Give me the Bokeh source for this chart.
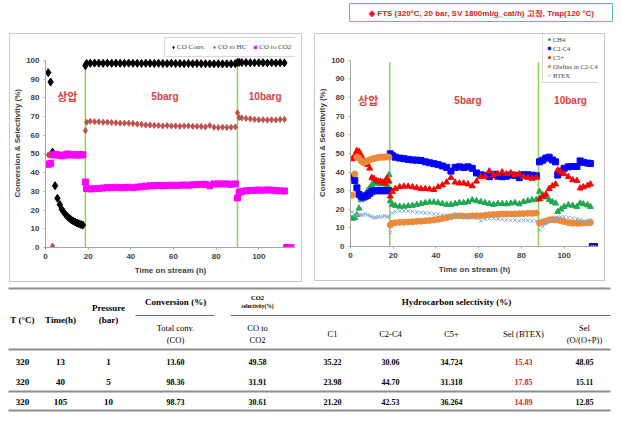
from bokeh.plotting import figure
from bokeh.layouts import column, row
from bokeh.models import Range1d, FixedTicker, Legend, LegendItem
from bokeh.core.properties import value
from bokeh.embed import file_html
from bokeh.resources import INLINE

# ---------------- data: left chart (CO conversion / selectivity) ----------------
L_t1 = [1.3, 2.4, 3.3, 4.5, 5.6, 6.7, 7.6, 8.5, 9.4, 10.3, 11.2, 12.1, 13.0, 13.9, 14.8, 15.7, 16.6, 17.5]
conv_1 = [93.5, 88.5, 51.0, 33.0, 26.3, 23.0, 20.5, 19.0, 17.6, 16.5, 15.6, 14.8, 14.2, 13.6, 13.1, 12.7, 12.3, 12.0]
hc_1 = [49.5, 44.8, 0.8, 49.7, 49.4, 49.2, 49.0, 49.2, 49.5, 49.9, 49.7, 49.4, 49.6, 49.5, 49.3, 49.6, 49.4, 49.5]
co2_1 = [44.5, 45.0, 49.5, 49.8, 49.5, 49.3, 49.0, 49.2, 49.6, 50.0, 49.8, 49.5, 49.7, 49.6, 49.4, 49.7, 49.5, 49.6]

L_t2 = [18.7, 19.3, 21, 23, 25, 27, 29, 31, 33, 35, 37, 39, 41, 43, 45, 47, 49, 51, 53, 55, 57, 59,
        61, 63, 65, 67, 69, 71, 73, 75, 77, 79, 81, 83, 85, 87, 89]
conv_2 = [97.3, 98.4, 98.5, 98.6, 98.6, 98.5, 98.6, 98.5, 98.6, 98.5, 98.5, 98.6, 98.5, 98.5, 98.4, 98.5,
          98.5, 98.4, 98.5, 98.4, 98.4, 98.5, 98.4, 98.4, 98.3, 98.4, 98.3, 98.4, 98.3, 98.3, 98.2, 98.2,
          98.3, 98.2, 98.2, 98.2, 98.3]
hc_2 = [62.5, 67.0, 67.5, 67.3, 67.2, 67.0, 67.0, 66.8, 66.7, 66.5, 66.5, 66.5, 66.3, 66.0, 65.8, 65.5,
        65.5, 65.3, 65.2, 65.0, 65.2, 65.0, 65.0, 64.8, 65.0, 65.0, 64.8, 64.8, 64.7, 64.5, 65.2, 64.3,
        64.2, 64.3, 64.2, 64.3, 64.5]
co2_2 = [35.0, 31.5, 31.3, 31.5, 31.6, 31.8, 32.0, 32.0, 32.2, 32.0, 32.0, 32.2, 32.0, 32.3, 32.5, 32.8,
         33.0, 33.0, 33.2, 33.0, 33.2, 33.3, 33.2, 33.3, 33.4, 33.3, 33.5, 33.7, 33.8, 33.8, 33.0, 34.0,
         34.0, 34.0, 34.0, 33.8, 34.0]

L_t3 = [90.0, 90.8, 92, 94, 96, 98, 100, 102, 104, 106, 108, 110, 112]
conv_3 = [99.0, 99.0, 98.9, 98.9, 98.8, 98.8, 98.8, 98.8, 98.7, 98.8, 98.7, 98.8, 98.7]
hc_3 = [72.0, 69.5, 69.3, 69.0, 68.8, 68.5, 68.3, 68.3, 68.2, 68.3, 68.2, 68.5, 68.5]
co2_3 = [26.5, 29.5, 30.0, 30.3, 30.5, 30.6, 30.7, 30.6, 30.8, 30.7, 30.5, 30.3, 30.2]

L_t_end = [113.0, 114.0, 115.0]
co2_end = [0.0, 0.0, 0.0]

L_switch = [18.7, 90.0]
L_label_x = [10.2, 56.0, 103.0]
L_label_y = [81.0, 81.0, 81.0]

# ---------------- data: right chart (hydrocarbon selectivity) ----------------
R_t1 = [0.8, 2, 3, 4, 5, 6, 7, 8, 9, 10, 11, 12, 13, 14, 15, 16, 17, 18]
ch4_1 = [15, 15.5, 17, 20.5, 25, 27, 28, 30, 31.5, 33, 34, 34, 34, 33.5, 34, 35, 33, 38.5]
c2c4_1 = [37.5, 35.5, 31.5, 28, 27, 26.5, 27, 27.5, 28.5, 29.5, 30, 30, 30, 30, 30, 30, 30, 30]
c5_1 = [47, 49, 51.5, 51, 49, 46.5, 45.5, 44, 42, 37, 36.5, 35.5, 35, 35, 34.5, 34, 36.5, 35]
ole_1 = [27.5, 39, 48, 47.5, 46, 45, 45.5, 46, 46.5, 47, 47.3, 47.5, 47.8, 48, 48, 48, 48.2, 48]
btex_1 = [18.5, 16.5, 17, 17, 17, 17, 17.5, 17, 16.5, 16, 15.5, 15.5, 16, 16, 16, 16.5, 16, 16]

R_t2 = [18.6, 19.6, 21, 23, 25, 27, 29, 31, 33, 35, 37, 39, 41, 43, 45, 47, 49, 51, 53, 55, 57, 59,
        61, 63, 65, 67, 69, 71, 73, 75, 77, 79, 81, 83, 85, 87]
ch4_2 = [24.5, 22.5, 22, 21.5, 21.5, 21.8, 22, 22.5, 23, 23.5, 23.8, 23.8, 23.5, 23, 22.5, 22.5, 23, 23.5,
         23.5, 24, 25, 24.5, 24, 23.5, 23, 22.5, 23, 23, 22.8, 23.2, 23.5, 22.8, 24, 24.5, 25, 25.2]
c2c4_2 = [49.8, 48.8, 48, 47.5, 47.2, 46.8, 46.5, 46.4, 46.2, 45.5, 45, 44.5, 44, 43.3, 42.5, 40.5, 42.5,
          42.8, 42.5, 42.8, 42, 39.5, 38.5, 38.2, 37.5, 38.8, 37.8, 37.5, 37.8, 38.4, 38.2, 37, 38.5, 38.5,
          38.3, 38]
c5_2 = [27, 29.5, 31, 32, 32.3, 32.3, 32, 31.5, 31, 31, 30.8, 30.5, 32, 33, 34.5, 37, 34.5, 34, 34, 33.5,
        32.5, 35, 37.5, 37.5, 40.5, 38.5, 39, 40, 39, 39.5, 38.5, 39, 37.5, 37, 36.5, 37]
ole_2 = [11.5, 12.5, 12.8, 13, 13, 13.2, 13.3, 13.5, 13.6, 13.8, 14, 14.3, 14.6, 15, 15.5, 16, 16.5, 16.5,
         16.3, 16.3, 16.5, 16.5, 16.5, 16.8, 17, 17.2, 17.3, 17.5, 17.5, 17.5, 17.5, 17.6, 17.7, 17.8, 17.8, 18]
btex_2 = [7.5, 18, 18.8, 19.1, 19.1, 19, 18.8, 18.5, 18.3, 18, 17.9, 17.5, 17.3, 17, 16.8, 16.5, 16.3, 16,
          16, 15.8, 15.5, 15.2, 13.8, 14.5, 15, 15.2, 14.8, 14.5, 14.3, 14, 14.2, 13.8, 14, 14, 13.8, 13.6]

R_t3 = [88.5, 90, 91.5, 93, 94.5, 96, 97, 98.5, 100, 102, 104, 106, 107.5, 109, 111, 112.3]
ch4_3 = [29.5, 27.7, 26.5, 25, 24, 23.2, 18.7, 20, 21.4, 22.3, 22, 21.4, 23.2, 22.8, 22.3, 21.4]
c2c4_3 = [45.5, 46.4, 47.5, 48, 46.5, 45.5, 38.4, 40.5, 42, 42.8, 43, 43, 46, 45.2, 44.8, 44.6]
c5_3 = [25.5, 26.8, 28, 31, 32.5, 33.5, 41, 40, 39, 37.5, 35.7, 35.4, 31.3, 32, 32.8, 33.5]
ole_3 = [12.5, 13.2, 13.6, 14.3, 14.5, 14.3, 14.3, 13.8, 13.4, 12.8, 12.5, 12.5, 12.5, 12.6, 12.8, 12.9]
btex_3 = [8.9, 10.7, 12, 13.4, 14.5, 15.2, 15.5, 16, 16, 15.5, 15.2, 14.8, 14.3, 13.5, 12.9, 14.3]

R_t_end = [113.2, 114.2]
R_end = [0.0, 0.0]

R_switch = [18.4, 88.0]
R_label_x = [8.3, 55.0, 103.0]
R_label_y = [78.5, 78.5, 78.5]

region_labels = ["상압", "5barg", "10barg"]
x_ticks = [0, 20, 40, 60, 80, 100]
y_ticks = [0, 10, 20, 30, 40, 50, 60, 70, 80, 90, 100]

# ---------------- data: table ----------------
tbl_T = ["320", "320", "320"]
tbl_time = ["13", "40", "105"]
tbl_pressure = ["1", "5", "10"]
tbl_conv = ["13.60", "98.36", "98.73"]
tbl_co2 = ["49.58", "31.91", "30.61"]
tbl_c1 = ["35.22", "23.98", "21.20"]
tbl_c2c4 = ["30.06", "44.70", "42.53"]
tbl_c5 = ["34.724", "31.318", "36.264"]
tbl_btex = ["15.43", "17.85", "14.89"]
tbl_ole = ["48.05", "15.11", "12.85"]

title_text = "◆ FTS (320°C, 20 bar, SV 1800ml/g_cat/h) 고정, Trap(120 °C)"

AX = "#404040"
LBL_RED = "#e03c3c"
GREEN_LINE = "#92d050"
BOX = "1px solid #c8c8c8"


def style_chart(p, xlabel, ylabel):
    p.xgrid.visible = False
    p.ygrid.visible = False
    p.outline_line_color = None
    p.xaxis.ticker = FixedTicker(ticks=x_ticks)
    p.yaxis.ticker = FixedTicker(ticks=y_ticks)
    p.yaxis.bounds = (0, 100)
    for ax in (p.xaxis[0], p.yaxis[0]):
        ax.axis_line_color = "#a6a6a6"
        ax.major_tick_line_color = "#a6a6a6"
        ax.major_tick_out = 2
        ax.major_tick_in = 0
        ax.minor_tick_line_color = None
        ax.major_label_text_font = "Liberation Sans"
        ax.major_label_text_font_style = "bold"
        ax.major_label_text_font_size = "8px"
        ax.major_label_text_color = AX
        ax.axis_label_text_font = "Liberation Sans"
        ax.axis_label_text_font_style = "bold"
        ax.axis_label_text_font_size = "8px"
        ax.axis_label_text_color = AX
    p.xaxis.axis_label = xlabel
    p.yaxis.axis_label = ylabel
    p.xaxis.major_label_standoff = 4
    p.xaxis.axis_label_standoff = 4
    p.yaxis.major_label_standoff = 4
    p.yaxis.axis_label_standoff = 1


def region_text(p, xs, ys):
    p.text(x=xs[:1], y=ys[:1], text=region_labels[:1], text_align="center", text_baseline="middle",
           text_font=value("Noto Sans CJK KR"), text_font_style="bold", text_font_size="11px",
           text_color=LBL_RED)
    p.text(x=xs[1:], y=ys[1:], text=region_labels[1:], text_align="center", text_baseline="middle",
           text_font=value("Liberation Sans"), text_font_style="bold", text_font_size="10px",
           text_color=LBL_RED)


# ---------------- left chart ----------------
p1 = figure(width=293, height=249, x_range=Range1d(0, 117.2), y_range=Range1d(0, 113.9),
            output_backend="svg", toolbar_location=None,
            min_border_left=33, min_border_right=8, min_border_top=0, min_border_bottom=36)
p1.styles = {"border": BOX}
p1.margin = (1, 6, 0, 9)
style_chart(p1, "Time on stream (h)", "Conversion  &  Selectivity (%)")
p1.segment(x0=L_switch, y0=[0, 0], x1=L_switch, y1=[99, 99], line_color=GREEN_LINE, line_width=1.5)

r_conv = p1.scatter(L_t1 + L_t2 + L_t3, conv_1 + conv_2 + conv_3, marker="diamond", size=8,
                    color="black")
r_hc = p1.scatter(L_t1 + L_t2 + L_t3, hc_1 + hc_2 + hc_3, marker="diamond", size=6,
                  color="#c0504d")
r_co2 = p1.scatter(L_t1 + L_t2 + L_t3 + L_t_end, co2_1 + co2_2 + co2_3 + co2_end, marker="square",
                   size=6, color="#ff00ff")
region_text(p1, L_label_x, L_label_y)

leg1 = Legend(items=[LegendItem(label="CO Conv.", renderers=[r_conv]),
                     LegendItem(label="CO to HC", renderers=[r_hc]),
                     LegendItem(label="CO to CO2", renderers=[r_co2])],
              orientation="horizontal", location=(119, 190), margin=0, padding=5, spacing=6,
              glyph_width=6, glyph_height=6, label_height=8, label_standoff=1,
              label_text_font="Liberation Serif", label_text_font_size="7px",
              border_line_color="#b0b0b0", background_fill_alpha=1)
p1.add_layout(leg1)

# ---------------- right chart ----------------
p2 = figure(width=291, height=248, x_range=Range1d(0, 116.1), y_range=Range1d(0, 113.9),
            output_backend="svg", toolbar_location=None,
            min_border_left=31, min_border_right=8, min_border_top=0, min_border_bottom=35)
p2.styles = {"border": BOX}
p2.margin = (1, 8, 1, 6)
style_chart(p2, "Time on stream (h)", "Conversion  &  Selectivity (%)")
p2.segment(x0=R_switch, y0=[0, 0], x1=R_switch, y1=[99, 99], line_color=GREEN_LINE, line_width=1.5)

r_ch4 = p2.scatter(R_t1 + R_t2 + R_t3, ch4_1 + ch4_2 + ch4_3, marker="triangle", size=6,
                   color="#1fa84f")
r_c2c4 = p2.scatter(R_t1 + R_t2 + R_t3 + R_t_end, c2c4_1 + c2c4_2 + c2c4_3 + R_end, marker="square",
                    size=6, color="#0000ff")
r_c5 = p2.scatter(R_t1 + R_t2 + R_t3, c5_1 + c5_2 + c5_3, marker="triangle", size=6,
                  color="#ff0000")
r_ole = p2.scatter(R_t1 + R_t2 + R_t3, ole_1 + ole_2 + ole_3, marker="circle", size=6,
                   color="#ec8a3a")
r_btex = p2.scatter(R_t1 + R_t2 + R_t3 + R_t_end, btex_1 + btex_2 + btex_3 + R_end, marker="x",
                    size=5, color="#7fa7d9", line_width=1)
region_text(p2, R_label_x, R_label_y)

leg2 = Legend(items=[LegendItem(label="CH4", renderers=[r_ch4]),
                     LegendItem(label="C2-C4", renderers=[r_c2c4]),
                     LegendItem(label="C5+", renderers=[r_c5]),
                     LegendItem(label="Olefins in C2-C4", renderers=[r_ole]),
                     LegendItem(label="BTEX", renderers=[r_btex])],
              orientation="vertical", location=(192, 163), margin=0, padding=3, spacing=1,
              glyph_width=6, glyph_height=6, label_height=8, label_standoff=1,
              label_text_font="Liberation Serif", label_text_font_size="6.5px",
              border_line_color="#b0b0b0", background_fill_alpha=1)
p2.add_layout(leg2)

# ---------------- title band ----------------
pt = figure(width=617, height=32, x_range=Range1d(0, 617), y_range=Range1d(32, 0),
            output_backend="svg", toolbar_location=None, x_axis_type=None, y_axis_type=None,
            min_border=0)
pt.outline_line_color = None
pt.quad(left=[349], right=[612], top=[3], bottom=[21], fill_color=None, line_color="#5ab9d0",
        line_width=1)
pt.text(x=[481], y=[12.5], text=[title_text], text_align="center", text_baseline="middle",
        text_font=value("Liberation Sans"), text_font_style="bold", text_font_size="8px",
        text_color="#e02020")

# ---------------- table ----------------
ptab = figure(width=617, height=134, x_range=Range1d(0, 617), y_range=Range1d(418, 284),
              output_backend="svg", toolbar_location=None, x_axis_type=None, y_axis_type=None,
              min_border=0)
ptab.outline_line_color = None

ptab.segment(x0=[8, 8, 8, 8], y0=[290, 351, 393, 412], x1=[610, 610, 610, 610],
             y1=[290, 351, 393, 412], line_color="#8c8c8c", line_width=2)
ptab.segment(x0=[135, 230], y0=[317, 317], x1=[214, 610], y1=[317, 317],
             line_color="#6e6e6e", line_width=1)

SERIF = value("Liberation Serif")
col_x = [22, 60, 108, 175, 257, 332, 390, 451, 523, 584]


def ttext(xs, ys, texts, size, bold=True, color="black"):
    ptab.text(x=xs, y=ys, text=texts, text_align="center", text_baseline="middle",
              text_font=SERIF, text_font_style="bold" if bold else "normal",
              text_font_size=size, text_color=color)


ttext([22, 60, 108, 108, 175, 456], [321, 321, 309, 321, 303, 303],
      ["T (°C)", "Time(h)", "Pressure", "(bar)", "Conversion (%)", "Hydrocarbon selectivity (%)"], "9px")
ttext([257], [299], ["CO2"], "6.5px")
ttext([257], [307], ["selectivity(%)"], "5.5px")
ttext([175, 175, 257, 257, 332, 390, 451, 523, 584, 584],
      [329, 341, 329, 341, 335, 335, 335, 335, 329, 341],
      ["Total conv.", "(CO)", "CO to", "CO2", "C1", "C2-C4", "C5+", "Sel (BTEX)", "Sel", "(O/(O+P))"],
      "8.5px", bold=False)

row_y = [363, 383, 403]
columns = [tbl_T, tbl_time, tbl_pressure, tbl_conv, tbl_co2, tbl_c1, tbl_c2c4, tbl_c5, tbl_btex, tbl_ole]
for cx, vals in zip(col_x, columns):
    color = "#e02020" if vals is tbl_btex else "black"
    size = "9px" if vals in (tbl_T, tbl_time, tbl_pressure) else "8px"
    ttext([cx] * 3, row_y, vals, size, color=color)

layout = column(pt, row(p1, p2), ptab)
open("out.html", "w").write(file_html(layout, INLINE))
